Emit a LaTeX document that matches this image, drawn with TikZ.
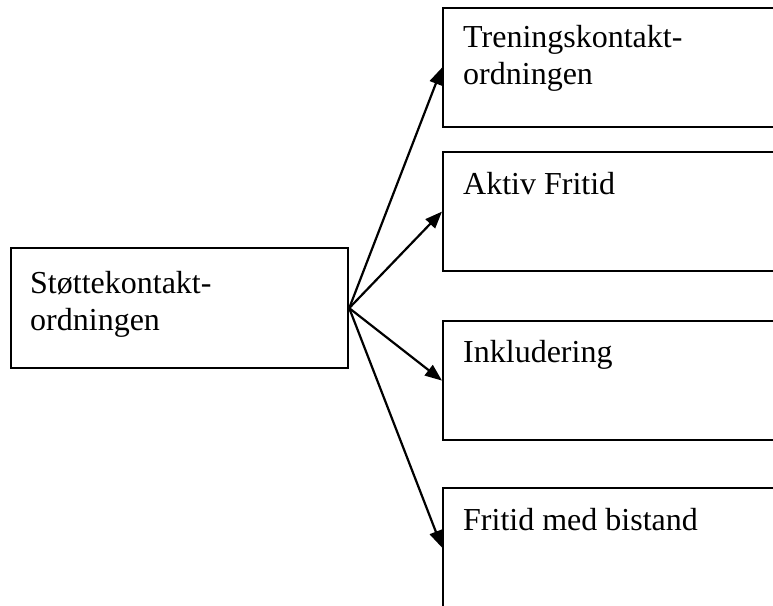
\documentclass[tikz,border=0pt]{standalone}
\usepackage{fontspec}
\setmainfont{Liberation Serif}
\usetikzlibrary{arrows.meta}
\begin{document}
\begin{tikzpicture}[x=1pt,y=1pt,
  box/.style={draw=black, line width=2.2pt, rectangle, inner sep=0pt, anchor=north west},
  rbox/.style={box, minimum width=400pt, minimum height=119pt},
  txt/.style={font=\fontsize{32}{37}\selectfont, align=left, anchor=base west, inner sep=0pt},
  conn/.style={line width=2.2pt, -{Triangle[length=17pt,width=13pt]}}]
\useasboundingbox (0,0) rectangle (773,-605);
\clip (0,0) rectangle (773,-605);
% left box
\node[box, minimum width=337pt, minimum height=120pt] (src) at (10,-247) {};
\node[txt] (srct) at (30,-330) {Støttekontakt-\\ordningen};
% right boxes
\node[rbox] (b1) at (442,-7) {};
\node[txt] (b1t) at (463,-84) {Treningskontakt-\\ordningen};
\node[rbox] (b2) at (442,-151) {};
\node[txt] (b2t) at (463,-194) {Aktiv Fritid};
\node[rbox] (b3) at (442,-320) {};
\node[txt] (b3t) at (463,-362) {Inkludering};
\node[rbox] (b4) at (442,-487) {};
\node[txt] (b4t) at (463,-530) {Fritid med bistand};
% connectors
\draw[conn] (src.east) -- (b1.west);
\draw[conn] (src.east) -- (b2.west);
\draw[conn] (src.east) -- (b3.west);
\draw[conn] (src.east) -- (b4.west);
\end{tikzpicture}
\end{document}
